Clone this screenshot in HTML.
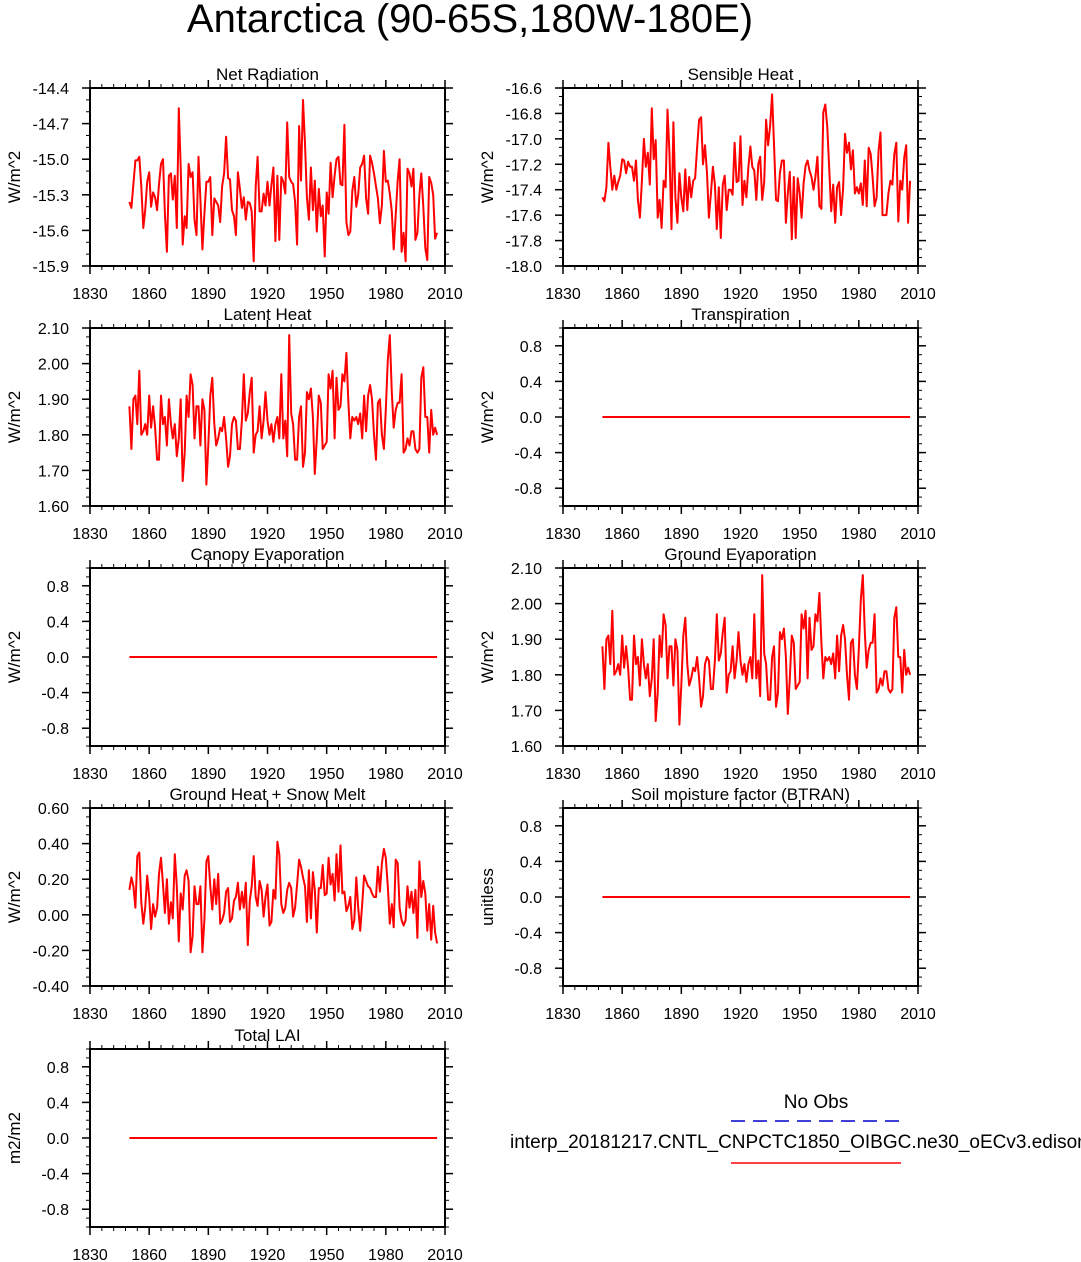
<!DOCTYPE html>
<html><head><meta charset="utf-8"><style>
html,body{margin:0;padding:0;background:#fff;overflow:hidden}
svg{display:block;font-family:"Liberation Sans",Arial,sans-serif}
</style></head><body>
<svg id="c" width="1081" height="1262" viewBox="0 0 1081 1262" xmlns="http://www.w3.org/2000/svg">
<text x="470" y="32" font-size="40" text-anchor="middle">Antarctica (90-65S,180W-180E)</text>
<g>
<text x="816" y="1108" font-size="19" text-anchor="middle">No Obs</text>
<line x1="731" y1="1121" x2="901" y2="1121" stroke="#0000cc" stroke-width="1.5" stroke-dasharray="14,8"/>
<text x="510" y="1148" font-size="19">interp_20181217.CNTL_CNPCTC1850_OIBGC.ne30_oECv3.edison</text>
<line x1="731" y1="1163" x2="901" y2="1163" stroke="#ff0000" stroke-width="1.5"/>
</g>
</svg>
<script>
const startYear = 1850;
const xTicks = [1830,1860,1890,1920,1950,1980,2010];
const netRadiation = [-15.36,-15.41,-15.21,-15.01,-15.01,-14.98,-15.23,-15.58,-15.43,-15.19,-15.11,-15.40,-15.28,-15.32,-15.43,-15.21,-15.04,-15.00,-15.46,-15.78,-15.14,-15.12,-15.34,-15.14,-15.58,-14.57,-15.07,-15.72,-15.48,-15.58,-15.04,-15.15,-15.11,-15.51,-15.64,-14.98,-15.34,-15.76,-15.46,-15.19,-15.19,-15.15,-15.64,-15.33,-15.36,-15.39,-15.53,-15.23,-15.12,-14.81,-15.16,-15.17,-15.43,-15.48,-15.64,-15.11,-15.25,-15.41,-15.32,-15.51,-15.36,-15.37,-15.44,-15.86,-15.23,-14.98,-15.44,-15.44,-15.29,-15.39,-15.19,-15.39,-15.22,-15.07,-15.69,-15.14,-15.68,-15.15,-15.19,-15.29,-14.69,-15.15,-15.19,-15.21,-15.36,-15.72,-14.72,-15.18,-14.50,-14.87,-15.32,-15.51,-15.07,-15.43,-15.18,-15.61,-15.25,-15.48,-15.39,-15.82,-15.28,-15.46,-15.03,-15.32,-15.14,-15.00,-14.98,-15.21,-15.22,-14.71,-15.53,-15.64,-15.61,-15.27,-15.15,-15.40,-15.30,-15.07,-15.04,-14.97,-15.33,-15.46,-14.97,-15.03,-15.12,-15.23,-15.33,-15.54,-15.39,-14.93,-15.19,-15.18,-15.29,-15.44,-15.76,-15.47,-15.18,-15.00,-15.78,-15.62,-15.86,-15.08,-15.12,-15.23,-15.08,-15.68,-15.62,-15.30,-15.12,-15.40,-15.75,-15.85,-15.15,-15.20,-15.30,-15.67,-15.62];
const sensibleHeat = [-17.46,-17.49,-17.38,-17.03,-17.22,-17.40,-17.29,-17.40,-17.34,-17.29,-17.16,-17.17,-17.27,-17.18,-17.22,-17.22,-17.33,-17.17,-17.48,-17.62,-17.33,-17.00,-17.22,-17.11,-17.36,-16.76,-17.16,-17.01,-17.62,-17.48,-17.70,-17.33,-17.38,-16.77,-17.12,-17.71,-16.87,-17.46,-17.66,-17.27,-17.46,-17.57,-17.24,-17.56,-17.30,-17.46,-17.33,-17.31,-17.07,-16.85,-16.83,-17.20,-17.05,-17.27,-17.62,-17.43,-17.22,-17.36,-17.71,-17.38,-17.78,-17.36,-17.29,-17.56,-17.40,-17.40,-17.44,-17.03,-17.34,-17.33,-16.98,-17.52,-17.33,-17.46,-17.22,-17.06,-17.22,-17.25,-17.48,-17.20,-17.14,-17.48,-17.34,-16.85,-17.05,-16.90,-16.65,-17.04,-17.48,-17.49,-17.27,-17.17,-17.17,-17.66,-17.43,-17.26,-17.79,-17.30,-17.78,-17.31,-17.43,-17.62,-17.35,-17.21,-17.17,-17.25,-17.30,-17.40,-17.30,-17.14,-17.53,-17.55,-16.79,-16.73,-16.91,-17.25,-17.57,-17.36,-17.66,-17.38,-17.34,-17.60,-17.39,-16.96,-17.11,-17.03,-17.24,-17.09,-17.43,-17.38,-17.43,-17.35,-17.52,-17.17,-17.53,-17.07,-17.12,-17.30,-17.53,-17.46,-17.09,-16.95,-17.60,-17.60,-17.60,-17.43,-17.33,-17.36,-17.12,-17.03,-17.65,-17.33,-17.40,-17.15,-17.05,-17.66,-17.33];
const latentHeat = [1.88,1.76,1.90,1.91,1.83,1.98,1.80,1.81,1.83,1.80,1.91,1.82,1.88,1.82,1.73,1.73,1.91,1.83,1.85,1.77,1.90,1.83,1.79,1.83,1.74,1.79,1.90,1.67,1.75,1.91,1.85,1.97,1.94,1.79,1.88,1.88,1.77,1.90,1.87,1.66,1.77,1.91,1.96,1.83,1.77,1.79,1.82,1.81,1.85,1.79,1.71,1.74,1.83,1.85,1.84,1.76,1.76,1.84,1.97,1.84,1.86,1.92,1.96,1.75,1.80,1.81,1.88,1.79,1.84,1.92,1.84,1.80,1.83,1.78,1.83,1.85,1.79,1.97,1.79,1.84,1.74,2.08,1.86,1.83,1.73,1.73,1.85,1.88,1.71,1.75,1.92,1.90,1.93,1.85,1.69,1.79,1.91,1.89,1.76,1.77,1.78,1.97,1.93,1.98,1.79,1.96,1.87,1.88,1.97,1.95,2.03,1.89,1.79,1.85,1.84,1.85,1.83,1.86,1.79,1.91,1.81,1.91,1.94,1.90,1.80,1.73,1.89,1.90,1.80,1.76,1.87,2.01,2.08,1.92,1.82,1.87,1.89,1.89,1.97,1.75,1.76,1.79,1.77,1.81,1.81,1.76,1.75,1.76,1.96,1.99,1.85,1.85,1.75,1.87,1.80,1.82,1.80];
const groundEvap = [1.88,1.76,1.90,1.91,1.83,1.98,1.80,1.81,1.83,1.80,1.91,1.82,1.88,1.82,1.73,1.73,1.91,1.83,1.85,1.77,1.90,1.83,1.79,1.83,1.74,1.79,1.90,1.67,1.75,1.91,1.85,1.97,1.94,1.79,1.88,1.88,1.77,1.90,1.87,1.66,1.77,1.91,1.96,1.83,1.77,1.79,1.82,1.81,1.85,1.79,1.71,1.74,1.83,1.85,1.84,1.76,1.76,1.84,1.97,1.84,1.86,1.92,1.96,1.75,1.80,1.81,1.88,1.79,1.84,1.92,1.84,1.80,1.83,1.78,1.83,1.85,1.79,1.97,1.79,1.84,1.74,2.08,1.86,1.83,1.73,1.73,1.85,1.88,1.71,1.75,1.92,1.90,1.93,1.85,1.69,1.79,1.91,1.89,1.76,1.77,1.78,1.97,1.93,1.98,1.79,1.96,1.87,1.88,1.97,1.95,2.03,1.89,1.79,1.85,1.84,1.85,1.83,1.86,1.79,1.91,1.81,1.91,1.94,1.90,1.80,1.73,1.89,1.90,1.80,1.76,1.87,2.01,2.08,1.92,1.82,1.87,1.89,1.89,1.97,1.75,1.76,1.79,1.77,1.81,1.81,1.76,1.75,1.76,1.96,1.99,1.85,1.85,1.75,1.87,1.80,1.82,1.80];
const groundHeat = [0.14,0.21,0.16,0.04,0.33,0.35,0.07,-0.05,0.04,0.22,0.10,-0.08,0.06,-0.01,0.04,0.23,0.32,0.17,0.01,0.20,-0.05,0.07,-0.02,0.34,0.16,-0.15,0.12,0.03,0.22,0.25,0.19,-0.21,-0.12,0.16,0.06,0.06,0.16,-0.21,-0.03,0.30,0.33,0.16,0.03,0.20,0.06,0.23,-0.05,-0.03,0.01,0.13,0.15,-0.04,-0.02,0.08,0.10,0.18,0.03,0.13,0.04,0.18,-0.17,0.08,0.16,0.33,0.10,0.05,0.19,0.14,-0.01,0.10,0.17,-0.06,-0.04,0.14,0.09,0.41,0.34,0.06,0.01,0.04,0.14,0.18,0.15,-0.01,0.04,0.17,0.31,0.27,0.21,0.16,-0.04,0.25,-0.02,0.24,0.14,-0.10,0.15,0.15,0.28,0.11,0.12,0.32,0.17,0.23,0.08,0.34,0.13,0.39,0.12,0.13,0.02,0.05,0.10,-0.08,-0.03,0.21,0.04,-0.09,0.06,0.22,0.19,0.16,0.15,0.12,0.10,0.10,0.27,0.13,0.29,0.37,0.32,0.16,-0.05,0.06,-0.07,0.31,0.29,0.04,-0.03,-0.06,-0.03,0.16,0.04,0.13,0.01,0.14,-0.13,0.30,0.10,0.19,0.12,-0.09,0.06,-0.14,0.05,-0.10,-0.16];
const transpiration = [0,0,0,0,0,0,0,0,0,0,0,0,0,0,0,0,0,0,0,0,0,0,0,0,0,0,0,0,0,0,0,0,0,0,0,0,0,0,0,0,0,0,0,0,0,0,0,0,0,0,0,0,0,0,0,0,0,0,0,0,0,0,0,0,0,0,0,0,0,0,0,0,0,0,0,0,0,0,0,0,0,0,0,0,0,0,0,0,0,0,0,0,0,0,0,0,0,0,0,0,0,0,0,0,0,0,0,0,0,0,0,0,0,0,0,0,0,0,0,0,0,0,0,0,0,0,0,0,0,0,0,0,0,0,0,0,0,0,0,0,0,0,0,0,0,0,0,0,0,0,0,0,0,0,0,0,0];
const canopyEvap = transpiration.slice();
const btran = transpiration.slice();
const totalLai = transpiration.slice();
const ticksNet = [-15.9,-15.6,-15.3,-15.0,-14.7,-14.4];
const ticksNetLbl = ["-15.9","-15.6","-15.3","-15.0","-14.7","-14.4"];
const ticksSens = [-18.0,-17.8,-17.6,-17.4,-17.2,-17.0,-16.8,-16.6];
const ticksSensLbl = ["-18.0","-17.8","-17.6","-17.4","-17.2","-17.0","-16.8","-16.6"];
const ticksLat = [1.6,1.7,1.8,1.9,2.0,2.1];
const ticksLatLbl = ["1.60","1.70","1.80","1.90","2.00","2.10"];
const ticksZero = [-0.8,-0.4,0,0.4,0.8];
const ticksZeroLbl = ["-0.8","-0.4","0.0","0.4","0.8"];
const ticksGh = [-0.4,-0.2,0,0.2,0.4,0.6];
const ticksGhLbl = ["-0.40","-0.20","0.00","0.20","0.40","0.60"];

const svg = document.getElementById('c');
const NS = 'http://www.w3.org/2000/svg';
function mk(tag, at, parent){const e=document.createElementNS(NS,tag);for(const k in at)e.setAttribute(k,at[k]);(parent||svg).appendChild(e);return e;}

function panel(cfg){
  const L=cfg.x, T=cfg.y, W=355, H=178;
  const g = mk('g',{});
  
  
  const xs = yr => L + (yr-1830)/180*W;
  const ys = v => T + H - (v-cfg.ymin)/(cfg.ymax-cfg.ymin)*H;
  for(let yr=1830; yr<=2010; yr+=6){
    const X=xs(yr);
    const m1=mk('line',{x1:X,y1:T+H,x2:X,y2:T+H+4,stroke:'#000','stroke-width':1},g);
    
    
    const m2=mk('line',{x1:X,y1:T,x2:X,y2:T-4,stroke:'#000','stroke-width':1},g);
    
    
  }
  xTicks.forEach(yr=>{
    const X=xs(yr);
    const t1=mk('line',{x1:X,y1:T+H,x2:X,y2:T+H+8,stroke:'#000','stroke-width':1.5},g);
    
    
    const t2=mk('line',{x1:X,y1:T,x2:X,y2:T-8,stroke:'#000','stroke-width':1.5},g);
    
    
    const tl=mk('text',{x:X,y:T+H+33,'font-size':16,'text-anchor':'middle'},g);
    tl.textContent=yr;
    
    
  });
  const step=(cfg.ticks[1]-cfg.ticks[0])/cfg.minor;
  for(let v=cfg.ymin; v<=cfg.ymax+1e-9; v+=step){
    const Y=ys(v);
    const a=mk('line',{x1:L,y1:Y,x2:L-4,y2:Y,stroke:'#000','stroke-width':1},g);
    
    
    const b=mk('line',{x1:L+W,y1:Y,x2:L+W+4,y2:Y,stroke:'#000','stroke-width':1},g);
    
    
  }
  cfg.ticks.forEach((v,i)=>{
    const Y=ys(v);
    const a=mk('line',{x1:L,y1:Y,x2:L-8,y2:Y,stroke:'#000','stroke-width':1.5},g);
    
    
    const b=mk('line',{x1:L+W,y1:Y,x2:L+W+8,y2:Y,stroke:'#000','stroke-width':1.5},g);
    
    
    const tl=mk('text',{x:L-21,y:Y+6,'font-size':16,'text-anchor':'end'},g);
    tl.textContent=cfg.labels[i];
    
    
  });
  const fr=mk('rect',{x:L,y:T,width:W,height:H,fill:'none',stroke:'#000','stroke-width':2},g);
  
  
  const ttl=mk('text',{x:L+W/2,y:T-8,'font-size':17,'text-anchor':'middle'},g);
  ttl.textContent=cfg.title;
  
  
  const yt=mk('text',{x:0,y:0,'font-size':17,'text-anchor':'middle',transform:`translate(${L-70},${T+H/2}) rotate(-90)`},g);
  yt.textContent=cfg.unit;
  
  
  const pts=cfg.data.map((v,i)=>xs(startYear+i).toFixed(1)+','+ys(v).toFixed(1)).join(' ');
  const pl=mk('polyline',{points:pts,fill:'none',stroke:'#ff0000','stroke-width':2,'stroke-linejoin':'round'},g);
  
  
}
panel({name:'net-radiation',title:'Net Radiation',unit:'W/m^2',x:90,y:88,ymin:-15.9,ymax:-14.4,ticks:ticksNet,labels:ticksNetLbl,minor:3,data:netRadiation});
panel({name:'sensible-heat',title:'Sensible Heat',unit:'W/m^2',x:563,y:88,ymin:-18.0,ymax:-16.6,ticks:ticksSens,labels:ticksSensLbl,minor:3,data:sensibleHeat});
panel({name:'latent-heat',title:'Latent Heat',unit:'W/m^2',x:90,y:328,ymin:1.6,ymax:2.1,ticks:ticksLat,labels:ticksLatLbl,minor:4,data:latentHeat});
panel({name:'transpiration',title:'Transpiration',unit:'W/m^2',x:563,y:328,ymin:-1,ymax:1,ticks:ticksZero,labels:ticksZeroLbl,minor:4,data:transpiration});
panel({name:'canopy-evaporation',title:'Canopy Evaporation',unit:'W/m^2',x:90,y:568,ymin:-1,ymax:1,ticks:ticksZero,labels:ticksZeroLbl,minor:4,data:canopyEvap});
panel({name:'ground-evaporation',title:'Ground Evaporation',unit:'W/m^2',x:563,y:568,ymin:1.6,ymax:2.1,ticks:ticksLat,labels:ticksLatLbl,minor:4,data:groundEvap});
panel({name:'ground-heat-snow-melt',title:'Ground Heat + Snow Melt',unit:'W/m^2',x:90,y:808,ymin:-0.4,ymax:0.6,ticks:ticksGh,labels:ticksGhLbl,minor:4,data:groundHeat});
panel({name:'soil-moisture-btran',title:'Soil moisture factor (BTRAN)',unit:'unitless',x:563,y:808,ymin:-1,ymax:1,ticks:ticksZero,labels:ticksZeroLbl,minor:4,data:btran});
panel({name:'total-lai',title:'Total LAI',unit:'m2/m2',x:90,y:1049,ymin:-1,ymax:1,ticks:ticksZero,labels:ticksZeroLbl,minor:4,data:totalLai});
</script>
</body></html>
